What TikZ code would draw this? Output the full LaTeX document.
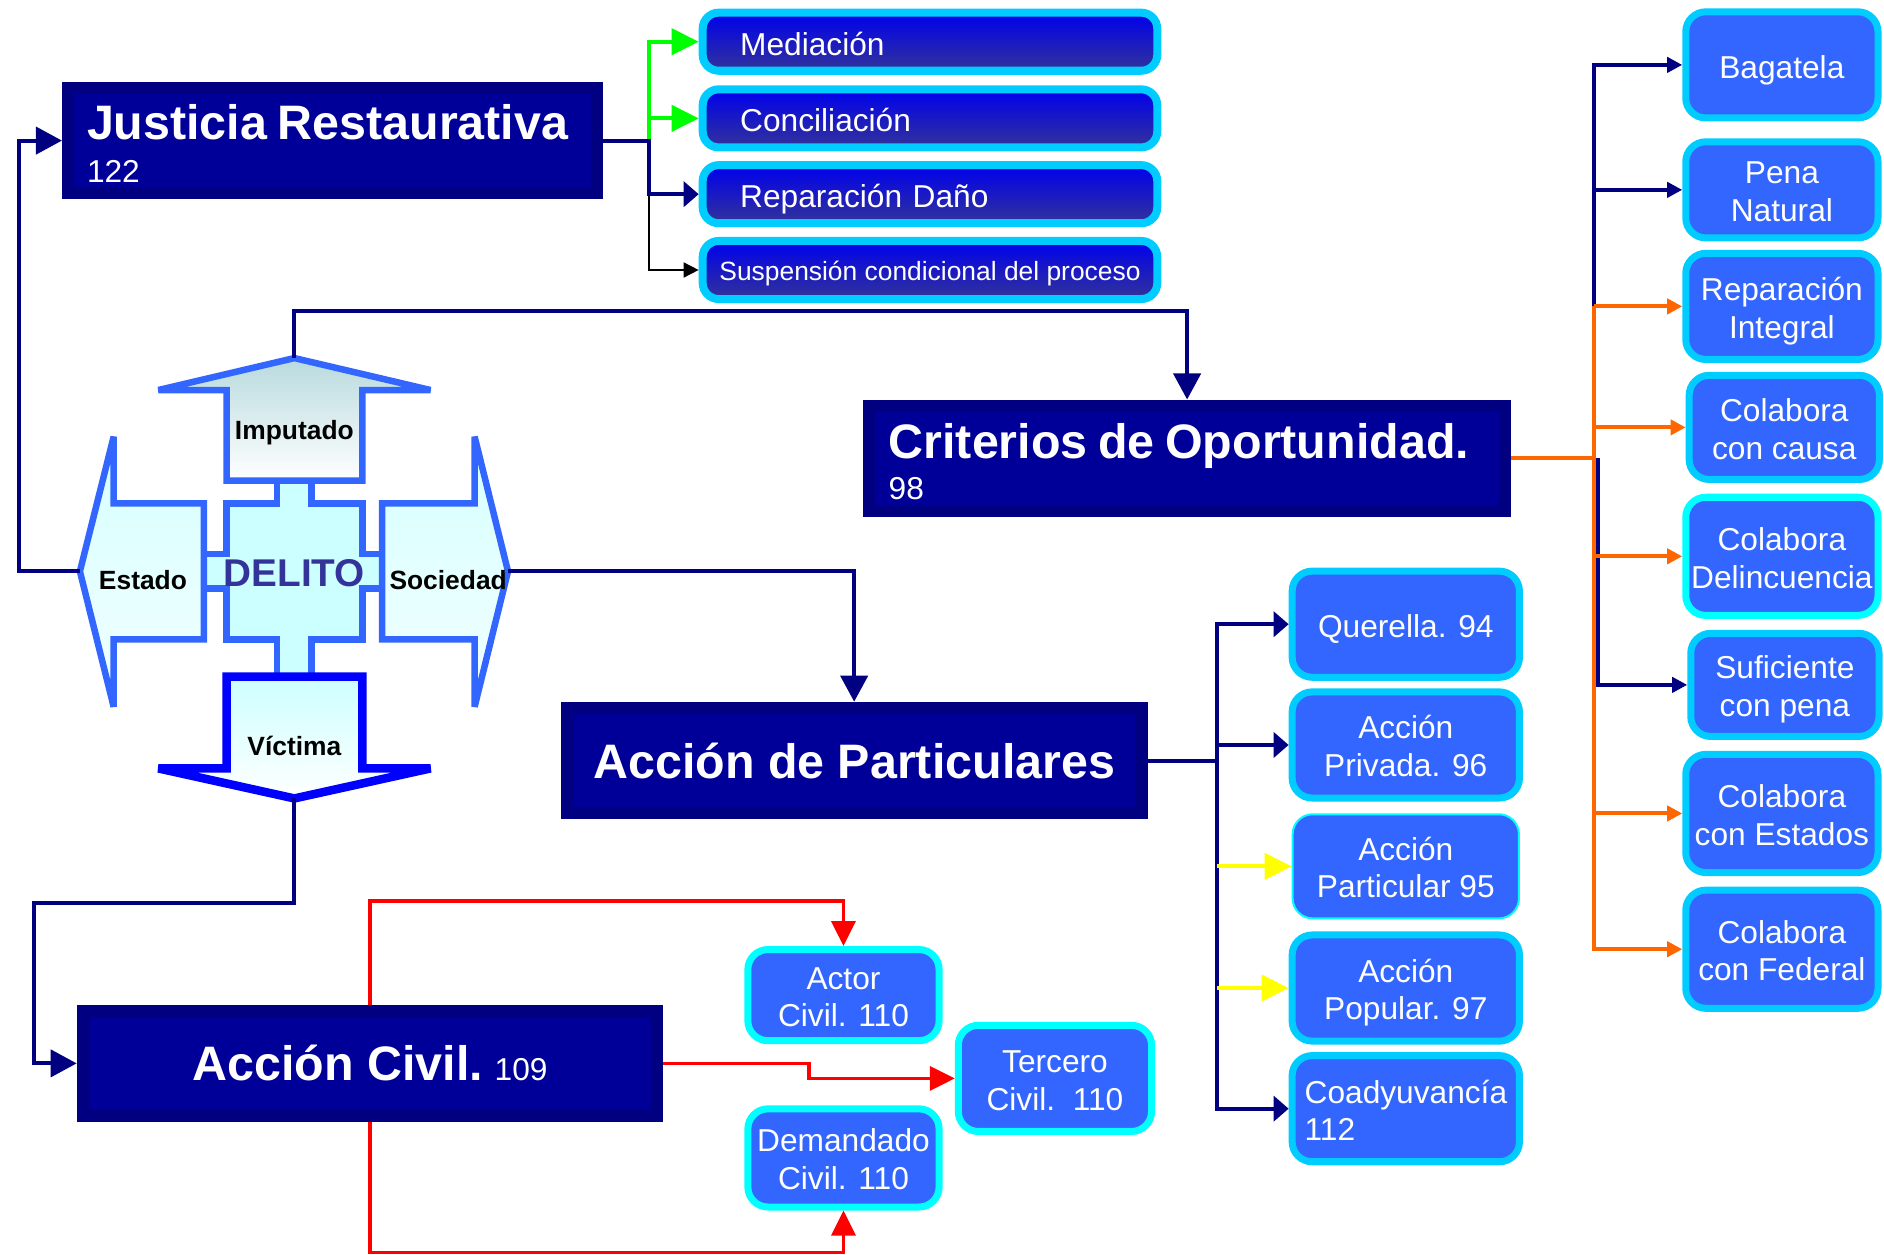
\documentclass[tikz,border=0pt]{standalone}
\usepackage{fontspec}
\setmainfont{Liberation Sans}
\usepackage{tikz}
\usetikzlibrary{arrows.meta}

\definecolor{navyline}{RGB}{0,0,128}
\definecolor{darkfill}{RGB}{0,0,153}
\definecolor{boxblue}{RGB}{51,102,255}
\definecolor{edgecyan}{RGB}{0,204,255}
\definecolor{brightcyan}{RGB}{0,255,255}
\definecolor{orangeline}{RGB}{255,102,0}
\definecolor{greenline}{RGB}{0,255,0}
\definecolor{yellowline}{RGB}{255,255,0}
\definecolor{redline}{RGB}{255,0,0}
\definecolor{delitotext}{RGB}{51,51,153}
\definecolor{victimblue}{RGB}{0,0,255}
\definecolor{rowtop}{RGB}{0,0,238}
\definecolor{rowbottom}{RGB}{51,51,153}
\definecolor{imptop}{RGB}{184,218,222}
\definecolor{armcyan}{RGB}{214,255,255}
\definecolor{armpale}{RGB}{242,255,255}
\definecolor{corecyan}{RGB}{204,255,255}

\begin{document}
\begin{tikzpicture}[x=0.12mm,y=-0.12mm,
    textpad/.style 2 args={execute at begin node={\rule{0pt}{#1}},execute at end node={\rule[-#2]{0pt}{0pt}}},
    darkbox/.style={draw=navyline,fill=darkfill,line width=1.2mm,text=white,inner sep=0pt,
        minimum height=10.56mm,font=\fontsize{9}{11.6}\selectfont},
    toprow/.style={draw=edgecyan,top color=rowtop,bottom color=rowbottom,line width=0.8mm,
        rounded corners=1.6mm,text=white,inner sep=0pt,minimum width=45.4mm,minimum height=5.8mm,
        font=\fontsize{9}{10.9}\selectfont,textpad={#1}{3pt}},
    toprow/.default=10.6pt,
    bluebox/.style={draw=edgecyan,fill=boxblue,line width=0.7mm,rounded corners=2mm,text=white,
        inner sep=0pt,align=center,font=\fontsize{9}{10.7}\selectfont,textpad={#1}{3pt}},
    bluebox/.default=21pt,
    arm/.style={draw=boxblue,line width=0.65mm,line join=miter,miter limit=5},
    armlabel/.style={font=\fontsize{7.5}{9}\selectfont\bfseries},
    nline/.style={draw=navyline,line width=0.4mm},
    oline/.style={draw=orangeline,line width=0.4mm},
    gline/.style={draw=greenline,line width=0.4mm},
    yline/.style={draw=yellowline,line width=0.4mm},
    rline/.style={draw=redline,line width=0.35mm},
    kline/.style={draw=black,line width=0.15mm},
    bigtip/.style={-{Triangle[length=2.6mm,width=2.7mm]}},
    widetip/.style={-{Triangle[length=1.5mm,width=2.5mm]}},
    smalltip/.style={-{Triangle[length=1.5mm,width=1.5mm]}},
    greentip/.style={-{Triangle[length=2.7mm,width=2.6mm]}},
    redtip/.style={-{Triangle[length=2.5mm,width=2.4mm]}}]
    \useasboundingbox (0,0) rectangle (1568,1044);

    % DELITO cross
    \draw [arm,fill=corecyan] (188.6,418.9) -- (230.7,418.9) -- (230.7,400) -- (259.4,400) -- (259.4,418.9)
        -- (301.5,418.9) -- (301.5,461.1) -- (318.1,461.1) -- (318.1,489.7) -- (301.5,489.7) -- (301.5,532.1)
        -- (259.4,532.1) -- (259.4,563.2) -- (230.7,563.2) -- (230.7,532.1) -- (188.6,532.1) -- (188.6,489.7)
        -- (169.7,489.7) -- (169.7,461.1) -- (188.6,461.1) -- cycle;
    \coordinate (imp) at (245,298);
    \coordinate (est) at (66.5,475.5);
    \coordinate (soc) at (422.8,475.5);
    \coordinate (vic) at (245,664.5);
    \draw [arm,top color=imptop,bottom color=white] (188.6,400) -- (188.6,324.6) -- (131.8,324.6) -- (imp)
        -- (358.3,324.6) -- (301.5,324.6) -- (301.5,400) -- cycle;
    \draw [arm,top color=armcyan,bottom color=armpale] (169.7,418.9) -- (94.6,418.9) -- (94.6,363.4) -- (est)
        -- (94.6,588.2) -- (94.6,532.1) -- (169.7,532.1) -- cycle;
    \draw [arm,top color=armcyan,bottom color=armpale] (318.1,418.9) -- (395,418.9) -- (395,363.4) -- (soc)
        -- (395,588.2) -- (395,532.1) -- (318.1,532.1) -- cycle;
    \draw [arm,draw=victimblue,line width=0.85mm,top color=corecyan,bottom color=white] (188.6,563.2)
        -- (301.5,563.2) -- (301.5,639.5) -- (358.3,639.5) -- (vic) -- (131.8,639.5) -- (188.6,639.5) -- cycle;
    \node (imputado) [armlabel] at (245,360) {Imputado};
    \node (estado) [armlabel] at (119,483) {Estado};
    \node (sociedad) [armlabel] at (373,483) {Sociedad};
    \node (victima) [armlabel] at (245,621) {Víctima};
    \node (delito) [font=\fontsize{11}{13}\selectfont\bfseries,text=delitotext] at (245,477) {DELITO};

    % main boxes
    \node (jr) [darkbox,minimum width=52.8mm,text width=49mm,align=left,textpad={11.6pt}{0pt},
        font=\fontsize{9}{12.1}\selectfont] at (276.6,117)
        {{\fontsize{13.75}{16}\selectfont\bfseries Justicia Restaurativa}\\122};
    \node (co) [darkbox,minimum width=63.5mm,text width=59.6mm,align=left,textpad={11.6pt}{0pt},
        font=\fontsize{9}{11.6}\selectfont] at (988,381.5)
        {{\fontsize{13.75}{16}\selectfont\bfseries Criterios de Oportunidad.}\\98};
    \node (ap) [darkbox,minimum width=57.4mm] at (710.9,633)
        {\fontsize{13.75}{16}\selectfont\bfseries Acción de Particulares};
    \node (ac) [darkbox,minimum width=57.4mm] at (308,885)
        {{\fontsize{13.75}{16}\selectfont\bfseries Acción Civil.} 109};

    % salidas alternas
    \node (med) [toprow,text width=37.9mm,align=left] at (774,34.7) {Mediación};
    \node (con) [toprow,text width=37.9mm,align=left] at (774,98.5) {Conciliación};
    \node (rep) [toprow,text width=37.9mm,align=left] at (774,161.6) {Reparación Daño};
    \node (sus) [toprow=8.7pt,font=\fontsize{7.5}{9}\selectfont] at (774,224.7) {Suspensión condicional del proceso};

    % criterios
    \node (bag) [bluebox=10.5pt,minimum width=19.2mm,minimum height=10.6mm] at (1483,54) {Bagatela};
    \node (pn) [bluebox,minimum width=19.2mm,minimum height=9.6mm] at (1483,158) {Pena\\Natural};
    \node (ri) [bluebox,minimum width=19.2mm,minimum height=10.6mm] at (1483,255) {Reparación\\Integral};
    \node (cc) [bluebox,minimum width=19mm,minimum height=10.4mm] at (1485,355.7) {Colabora\\con causa};
    \node (cd) [bluebox,draw=brightcyan,minimum width=19.2mm,minimum height=11.8mm] at (1483,463) {Colabora\\Delincuencia};
    \node (suf) [bluebox,minimum width=18.8mm,minimum height=10.3mm] at (1485.5,570) {Suficiente\\con pena};
    \node (ce) [bluebox,minimum width=19.2mm,minimum height=11.8mm] at (1483,677) {Colabora\\con Estados};
    \node (cf) [bluebox,minimum width=19.2mm,minimum height=11.8mm] at (1483,790) {Colabora\\con Federal};

    % particulares
    \node (q) [bluebox=10.5pt,minimum width=22.7mm,minimum height=10.6mm] at (1170,519.5) {Querella. 94};
    \node (pr) [bluebox,minimum width=22.7mm,minimum height=10.6mm] at (1170,620) {Acción\\Privada. 96};
    \node (pa) [bluebox,draw=brightcyan,line width=0.2mm,minimum width=22.6mm,minimum height=10.4mm] at (1170,721)
        {Acción\\Particular 95};
    \node (pp) [bluebox,minimum width=22.7mm,minimum height=10.6mm] at (1170,822.3) {Acción\\Popular. 97};
    \node (coa) [bluebox=10.5pt,minimum width=22.7mm,minimum height=10.6mm,text width=20.2mm,align=left] at (1170,922.7)
        {Coadyuvancía\\112};

    % civil
    \node (act) [bluebox,draw=brightcyan,minimum width=19.1mm,minimum height=9.1mm] at (702,828.2) {Actor\\Civil. 110};
    \node (ter) [bluebox,draw=brightcyan,minimum width=19.3mm,minimum height=10.6mm] at (878,897.5) {Tercero\\Civil.~~110};
    \node (dem) [bluebox,draw=brightcyan,minimum width=19.1mm,minimum height=9.8mm] at (702,963.7) {Demandado\\Civil. 110};

    % connectors from the cross
    \draw [nline,bigtip] (est) -- ++(-51,0) |- (jr.west);
    \draw [nline,bigtip] (imp) -- ++(0,-39.5) -| (co.north);
    \draw [nline,bigtip] (soc) -| (ap.north);
    \draw [nline,bigtip] (vic) -- ++(0,87) -- ++(-216.4,0) |- (ac.west);

    % justicia restaurativa
    \coordinate (jsplit) at (540,117);
    \draw [gline,greentip] (jsplit) |- (med.west);
    \draw [gline,greentip] (jsplit) |- (con.west);
    \draw [kline,smalltip] (jsplit |- rep.west) |- (sus.west);
    \draw [nline,widetip] (jr.east) -- (jsplit) |- (rep.west);

    % criterios de oportunidad
    \coordinate (csplit) at (1327,381.5);
    \foreach \n in {bag,pn}
        \draw [nline,smalltip] (csplit |- ri.west) |- (\n.west);
    \draw [nline,smalltip] ([xshift=0.36mm]csplit) |- (suf.west);
    \draw [oline] (co.east) -- (csplit);
    \foreach \n in {ri,cc,cd,ce,cf}
        \draw [oline,smalltip] (csplit |- ri.west) |- (\n.west);

    % accion de particulares
    \coordinate (psplit) at (1012.6,633);
    \draw [nline] (ap.east) -- (psplit);
    \foreach \n in {q,pr,coa}
        \draw [nline,widetip] (psplit) |- (\n.west);
    \foreach \n in {pa,pp}
        \draw [yline,greentip] (psplit |- \n.west) -- (\n.west);

    % accion civil
    \draw [rline,redtip] (ac.north) -- ++(0,-86) -| (act.north);
    \draw [rline,redtip] (ac.east) -- ++(121,0) |- (ter.west);
    \draw [rline,redtip] (ac.south) -- ++(0,108.6) -| (dem.south);
\end{tikzpicture}
\end{document}
